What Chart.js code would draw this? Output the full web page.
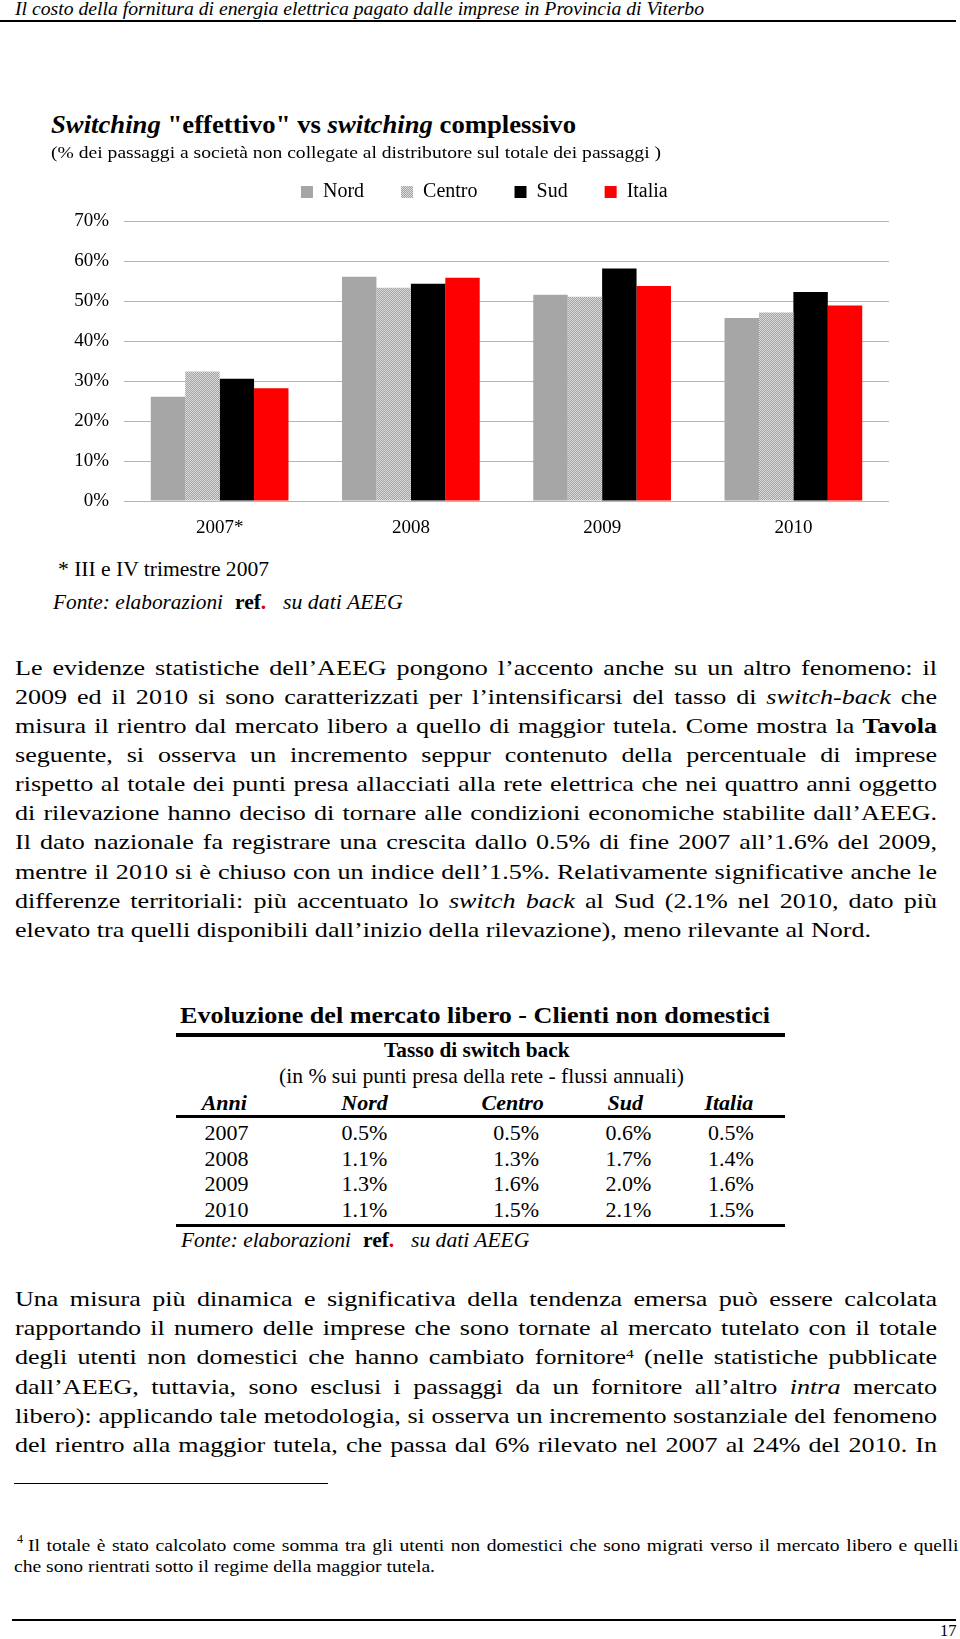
<!DOCTYPE html>
<html><head><meta charset="utf-8">
<script src="https://cdn.jsdelivr.net/npm/chart.js@4.4.0/dist/chart.umd.min.js"></script>
<style>
html,body{margin:0;padding:0;background:#fff;}
body{width:960px;height:1639px;position:relative;overflow:hidden;font-family:"Liberation Serif","Times New Roman",serif;color:#000;}
.t{position:absolute;white-space:nowrap;}
.t > span{display:inline-block;transform-origin:0 0;}
.rule{position:absolute;background:#000;}
#chartBox{position:absolute;left:40px;top:145px;width:888px;height:401px;}
.red{color:#e00000;}
</style></head><body>
<div id="chartBox"><canvas id="c" width="888" height="401"></canvas></div>
<script>
// ---------- chart data ----------
const categories = ['2007*', '2008', '2009', '2010'];
const seriesNames = ['Nord', 'Centro', 'Sud', 'Italia'];
const nordValues   = [26.1, 56.1, 51.6, 45.8];
const centroValues = [32.4, 53.4, 51.1, 47.2];
const sudValues    = [30.6, 54.4, 58.2, 52.3];
const italiaValues = [28.2, 55.9, 53.8, 48.9];
const yTickLabels  = ['0%', '10%', '20%', '30%', '40%', '50%', '60%', '70%'];

// ---------- table data ----------
const tableYears   = ['2007', '2008', '2009', '2010'];
const tableNord    = ['0.5%', '1.1%', '1.3%', '1.1%'];
const tableCentro  = ['0.5%', '1.3%', '1.6%', '1.5%'];
const tableSud     = ['0.6%', '1.7%', '2.0%', '2.1%'];
const tableItalia  = ['0.5%', '1.4%', '1.6%', '1.5%'];

// ---------- helpers for page text ----------
function put(html, x, base, size, o) {
  o = o || {};
  const d = document.createElement('div');
  d.className = 't';
  d.style.top = (base - 0.8375 * size) + 'px';
  d.style.fontSize = size + 'px';
  d.style.lineHeight = size + 'px';
  if (o.style) d.style.fontStyle = o.style;
  if (o.weight) d.style.fontWeight = o.weight;
  const s = document.createElement('span');
  s.innerHTML = html;
  d.appendChild(s);
  document.body.appendChild(d);
  let w = s.getBoundingClientRect().width;
  const k = o.k || 1;
  if (o.jw) {
    const n = (s.textContent.match(/ /g) || []).length;
    if (n > 0) s.style.wordSpacing = ((o.jw / k - w) / n) + 'px';
    if (k !== 1) s.style.transform = 'scaleX(' + k + ')';
    w = o.jw;
  } else if (o.w) {
    s.style.transform = 'scaleX(' + (o.w / w) + ')';
    w = o.w;
  } else if (k !== 1) {
    s.style.transform = 'scaleX(' + k + ')';
    w = w * k;
  }
  if (o.cx !== undefined) x = o.cx - w / 2;
  d.style.left = x + 'px';
  return s;
}
function rule(x, y, w, h) {
  const d = document.createElement('div');
  d.className = 'rule';
  d.style.left = x + 'px'; d.style.top = y + 'px';
  d.style.width = w + 'px'; d.style.height = h + 'px';
  document.body.appendChild(d);
}
function measure(html, size) {
  const s = document.createElement('span');
  s.style.cssText = 'position:absolute;left:0;top:0;white-space:nowrap;visibility:hidden;font-size:' + size + 'px';
  s.innerHTML = html;
  document.body.appendChild(s);
  const w = s.getBoundingClientRect().width;
  s.remove();
  return w;
}
const clamp = (v, a, b) => Math.max(a, Math.min(b, v));

// header
put('Il costo della fornitura di energia elettrica pagato dalle imprese in Provincia di Viterbo', 15, 15, 18, {style:'italic', w:689});
rule(0, 20, 956, 1.5);

// chart title
put('<i>Switching</i> "effettivo" vs <i>switching</i> complessivo', 51, 133.3, 25, {weight:'bold', w:525});
put('(% dei passaggi a società non collegate al distributore sul totale dei passaggi )', 51, 158.5, 17, {w:610});

// chart notes
put('* III e IV trimestre 2007', 58, 576, 20, {w:211});
put('Fonte: elaborazioni', 52.7, 610, 21.5, {style:'italic', w:170});
put('ref<span class="red">.</span>', 235, 610, 21.5, {weight:'bold'});
put('su dati AEEG', 283, 610, 21.5, {style:'italic', w:119.7});

// body text
const para1 = [
  'Le evidenze statistiche dell’AEEG pongono l’accento anche su un altro fenomeno: il',
  '2009 ed il 2010 si sono caratterizzati per l’intensificarsi del tasso di <i>switch-back</i> che',
  'misura il rientro dal mercato libero a quello di maggior tutela. Come mostra la <b>Tavola</b>',
  'seguente, si osserva un incremento seppur contenuto della percentuale di imprese',
  'rispetto al totale dei punti presa allacciati alla rete elettrica che nei quattro anni oggetto',
  'di rilevazione hanno deciso di tornare alle condizioni economiche stabilite dall’AEEG.',
  'Il dato nazionale fa registrare una crescita dallo 0.5% di fine 2007 all’1.6% del 2009,',
  'mentre il 2010 si è chiuso con un indice dell’1.5%. Relativamente significative anche le',
  'differenze territoriali: più accentuato lo <i>switch back</i> al Sud (2.1% nel 2010, dato più',
  'elevato tra quelli disponibili dall’inizio della rilevazione), meno rilevante al Nord.'
];
const para2 = [
  'Una misura più dinamica e significativa della tendenza emersa può essere calcolata',
  'rapportando il numero delle imprese che sono tornate al mercato tutelato con il totale',
  'degli utenti non domestici che hanno cambiato fornitore<span style="position:relative;top:-0.5em;font-size:0.6em">4</span> (nelle statistiche pubblicate',
  'dall’AEEG, tuttavia, sono esclusi i passaggi da un fornitore all’altro <i>intra</i> mercato',
  'libero): applicando tale metodologia, si osserva un incremento sostanziale del fenomeno',
  'del rientro alla maggior tutela, che passa dal 6% rilevato nel 2007 al 24% del 2010. In'
];
const bodySize = 22;
const bodyK = clamp(856 / measure(para1[9], bodySize), 0.9, 1.2);
const lineStep = 29.15;
para1.forEach((ln, i) => {
  const last = i === para1.length - 1;
  put(ln, 15, 675 + lineStep * i, bodySize, last ? {k:bodyK} : {jw:922, k:bodyK});
});
para2.forEach((ln, i) => {
  put(ln, 15, 1306.5 + lineStep * i, bodySize, {jw:922, k:bodyK});
});

// table
put('Evoluzione del mercato libero - Clienti non domestici', 180.4, 1023.3, 24, {weight:'bold', w:590});
rule(176, 1033, 608.5, 3.5);
put('Tasso di switch back', 0, 1058, 21, {weight:'bold', w:185.5, cx:477});
put('(in % sui punti presa della rete - flussi annuali)', 0, 1083.3, 21, {w:405, cx:481});
const headCx = [224.3, 364.5, 512.7, 625.3, 728.9];
['Anni'].concat(seriesNames).forEach((h, i) => put(h, 0, 1110.7, 22, {weight:'bold', style:'italic', cx:headCx[i]}));
rule(176, 1115, 608.5, 3);
const colCx = [226.4, 364.5, 516.2, 628.4, 731];
const rowBase = [1140.5, 1166, 1191.5, 1217];
tableYears.forEach((y, r) => {
  [y, tableNord[r], tableCentro[r], tableSud[r], tableItalia[r]].forEach((v, c) => {
    put(v, 0, rowBase[r], 22, {cx:colCx[c]});
  });
});
rule(176, 1223.5, 608.5, 3.5);
put('Fonte: elaborazioni', 181, 1248.3, 21.5, {style:'italic', w:170});
put('ref<span class="red">.</span>', 363, 1248.3, 21.5, {weight:'bold'});
put('su dati AEEG', 411, 1248.3, 21.5, {style:'italic', w:118.4});

// footnote
rule(13.5, 1483, 314, 1);
const fn1 = 'Il totale è stato calcolato come somma tra gli utenti non domestici che sono migrati verso il mercato libero e quelli';
const fn2 = 'che sono rientrati sotto il regime della maggior tutela.';
const fnSize = 17.5;
const fnK = clamp(421 / measure(fn2, fnSize), 0.85, 1.25);
put('4', 17, 1543, 12);
put(fn1, 27.6, 1551.5, fnSize, {jw:930.4, k:fnK});
put(fn2, 13.5, 1573, fnSize, {k:fnK});
rule(12, 1619, 944, 1.5);
put('17', 940, 1636.7, 17.5, {w:16.5});

// ---------- chart ----------
const cv = document.getElementById('c');
const ctx = cv.getContext('2d');
function checker() {
  const p = document.createElement('canvas');
  p.width = 2; p.height = 2;
  const g = p.getContext('2d');
  g.fillStyle = '#dcdcdc'; g.fillRect(0, 0, 2, 2);
  g.fillStyle = '#a2a2a2'; g.fillRect(0, 0, 1, 1); g.fillRect(1, 1, 1, 1);
  return ctx.createPattern(p, 'repeat');
}
const centroFill = checker();
const legendShift = 19.85;
const legendGap = {
  id: 'legendGap',
  beforeInit(chart) {
    const fit = chart.legend.fit;
    chart.legend.fit = function () { fit.bind(chart.legend)(); this.height += 9.3; };
  },
  afterLayout(chart) {
    chart.legend.left += legendShift;
    chart.legend.right += legendShift;
  }
};
const fontFam = 'Liberation Serif';
new Chart(ctx, {
  type: 'bar',
  data: {
    labels: categories,
    datasets: [
      {label: seriesNames[0], data: nordValues, backgroundColor: '#a6a6a6'},
      {label: seriesNames[1], data: centroValues, backgroundColor: centroFill},
      {label: seriesNames[2], data: sudValues, backgroundColor: '#000000'},
      {label: seriesNames[3], data: italiaValues, backgroundColor: '#ff0000'}
    ]
  },
  options: {
    responsive: false,
    animation: false,
    devicePixelRatio: 1,
    layout: {padding: {left: 0, right: 39, top: 0, bottom: 0}},
    datasets: {bar: {barPercentage: 1, categoryPercentage: 0.72, borderWidth: 0}},
    plugins: {
      legend: {
        position: 'top',
        labels: {font: {family: fontFam, size: 20}, color: '#000', boxWidth: 12, boxHeight: 12, padding: 37}
      },
      tooltip: {enabled: false}
    },
    scales: {
      x: {
        grid: {display: false, drawTicks: false},
        border: {display: false},
        ticks: {font: {family: fontFam, size: 19}, color: '#000', padding: 16},
        afterFit(s) { s.height = 45; }
      },
      y: {
        min: 0, max: 70,
        grid: {color: '#b4b4b4', lineWidth: 1, drawTicks: false},
        border: {display: false},
        ticks: {stepSize: 10, padding: 15, font: {family: fontFam, size: 19}, color: '#000',
          callback: (v, i) => yTickLabels[i]},
        afterFit(s) { s.width = 84; }
      }
    }
  },
  plugins: [legendGap]
});
</script>
</body></html>
